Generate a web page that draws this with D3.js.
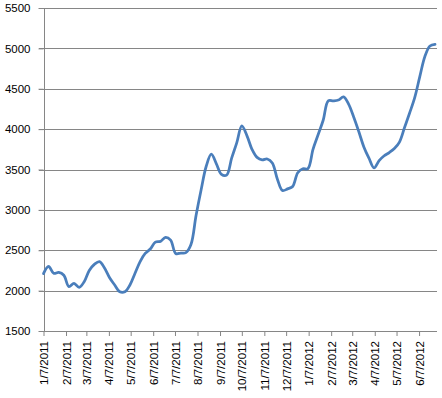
<!DOCTYPE html>
<html>
<head>
<meta charset="utf-8">
<script src="https://cdn.jsdelivr.net/npm/d3@7"></script>
<style>
    body { margin: 0; background: #fff; }
    svg { display: block; }
    text { font-family: "Liberation Sans", Arial, sans-serif; fill: #000; }
</style>
</head>
<body>
<script>
// weekly closing values, first week 1/7/2011
const firstWeek = "2011-01-07";
const values2011 = [
    2210, 2300, 2215, 2225, 2190, 2050, 2090, 2040, 2110, 2250,
    2325, 2360, 2280, 2160, 2070, 1985, 1985, 2070, 2215, 2360,
    2460, 2515, 2600, 2610, 2660, 2625, 2460, 2465, 2470, 2570,
    2930, 3250, 3540, 3690, 3570, 3440, 3430, 3640, 3830, 4040,
    3920, 3750, 3650, 3620, 3630, 3580, 3380, 3240, 3260, 3290,
    3460, 3510
];
const values2012 = [
    3510, 3750, 3930, 4110, 4350, 4350, 4360, 4400, 4310, 4150,
    3970, 3780, 3640, 3520, 3610, 3670, 3710, 3760, 3840, 4020,
    4200, 4390, 4650, 4900, 5030, 5050
];
const xTickLabels = [
    "1/7/2011", "2/7/2011", "3/7/2011", "4/7/2011", "5/7/2011", "6/7/2011",
    "7/7/2011", "8/7/2011", "9/7/2011", "10/7/2011", "11/7/2011", "12/7/2011",
    "1/7/2012", "2/7/2012", "3/7/2012", "4/7/2012", "5/7/2012", "6/7/2012"
];
const yTicks = [1500, 2000, 2500, 3000, 3500, 4000, 4500, 5000, 5500];
const axisEnd = "2012-07-01";

window.onload = function () {
    const width = 442, height = 398;
    const margin = {top: 8, right: 5.5, bottom: 67, left: 43.5};

    const parseIso = d3.utcParse("%Y-%m-%d");
    const parseLabel = d3.utcParse("%m/%d/%Y");
    const start = parseIso(firstWeek);

    const values = values2011.concat(values2012);
    const data = values.map((v, i) => ({date: d3.utcDay.offset(start, i * 7), value: v}));

    const x = d3.scaleUtc()
        .domain([start, parseIso(axisEnd)])
        .range([margin.left, width - margin.right]);

    const y = d3.scaleLinear()
        .domain([1500, 5500])
        .range([height - margin.bottom, margin.top]);

    const svg = d3.select("body")
        .append("svg")
        .attr("width", width)
        .attr("height", height)
        .attr("viewBox", [0, 0, width, height]);

    const grey = "#868686";

    // horizontal gridlines (start 5px left of the axis, like the tick marks)
    svg.append("g")
        .attr("transform", `translate(${margin.left - 5},0)`)
        .call(d3.axisRight(y).tickValues(yTicks).tickSize(width - margin.right - margin.left + 5).tickFormat(""))
        .call(g => g.select(".domain").remove())
        .call(g => g.selectAll(".tick line").attr("stroke", grey).attr("shape-rendering", "crispEdges"));

    // y axis
    svg.append("g")
        .attr("transform", `translate(${margin.left},0)`)
        .call(d3.axisLeft(y).tickValues(yTicks).tickSize(5).tickSizeOuter(0).tickPadding(8).tickFormat(d3.format("d")))
        .call(g => g.select(".domain").attr("stroke", grey).attr("shape-rendering", "crispEdges"))
        .call(g => g.selectAll(".tick line").attr("stroke", grey))
        .call(g => g.selectAll("text").style("font-size", "11.5px"));

    // x axis
    svg.append("g")
        .attr("transform", `translate(0,${height - margin.bottom})`)
        .call(d3.axisBottom(x)
            .tickValues(xTickLabels.map(parseLabel))
            .tickSize(5)
            .tickSizeOuter(0)
            .tickFormat((d, i) => xTickLabels[i]))
        .call(g => g.select(".domain").attr("stroke", grey).attr("shape-rendering", "crispEdges"))
        .call(g => g.selectAll(".tick line").attr("stroke", grey))
        .call(g => g.selectAll("text")
            .style("font-size", "11.5px")
            .attr("transform", "rotate(-90)")
            .attr("text-anchor", "end")
            .attr("x", -10)
            .attr("y", 0)
            .attr("dy", "0.35em"));

    const line = d3.line()
        .x(d => x(d.date))
        .y(d => y(d.value))
        .curve(d3.curveCatmullRom.alpha(0.5));

    svg.append("path")
        .datum(data)
        .attr("fill", "none")
        .attr("stroke", "#4a7ebb")
        .attr("stroke-width", 2.75)
        .attr("stroke-linejoin", "round")
        .attr("stroke-linecap", "round")
        .attr("d", line);
}
</script>
</body>
</html>
